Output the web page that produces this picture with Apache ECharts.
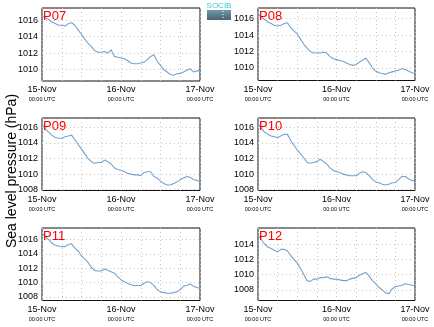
<!DOCTYPE html>
<html><head><meta charset="utf-8">
<script src="https://cdn.jsdelivr.net/npm/echarts@6/dist/echarts.min.js"></script>
<style>html,body{margin:0;padding:0;background:#fff}#c{width:434px;height:327px}</style>
</head><body><div id="c"></div>
<script>
// hours since 15-Nov 00:00 UTC
const hours = [0,1,2,3,4,5,6,7,8,9,10,11,12,13,14,15,16,17,18,19,20,21,22,23,24,25,26,27,28,29,30,31,32,33,34,35,36,37,38,39,40,41,42,43,44,45,46,47,48];
const stations = ['P07','P08','P09','P10','P11','P12'];
const p07 = [1016.6,1016.3,1016.1,1015.8,1015.6,1015.4,1015.4,1015.3,1015.6,1015.7,1015.4,1014.8,1014.3,1013.7,1013.2,1012.8,1012.3,1012.1,1012.1,1012.2,1012.0,1012.4,1011.6,1011.5,1011.4,1011.3,1011.1,1010.8,1010.7,1010.7,1010.8,1010.9,1011.2,1011.6,1011.8,1011.0,1010.5,1010.0,1009.7,1009.4,1009.3,1009.5,1009.5,1009.7,1009.9,1010.1,1009.7,1009.8,1009.9];
const p08 = [1016.5,1016.2,1015.9,1015.6,1015.4,1015.2,1015.1,1015.2,1015.4,1015.5,1014.9,1014.5,1014.1,1013.5,1012.9,1012.4,1012.0,1011.8,1011.8,1011.8,1011.9,1011.8,1011.4,1011.1,1011.0,1010.9,1010.8,1010.6,1010.4,1010.3,1010.4,1010.7,1010.9,1011.2,1010.6,1010.0,1009.6,1009.4,1009.3,1009.2,1009.4,1009.5,1009.6,1009.7,1009.9,1009.8,1009.6,1009.4,1009.3];
const p09 = [1016.4,1015.8,1015.4,1015.0,1014.7,1014.6,1014.6,1014.8,1014.9,1015.0,1014.4,1013.8,1013.2,1012.6,1012.0,1011.6,1011.4,1011.5,1011.5,1011.8,1011.6,1011.3,1010.8,1010.6,1010.5,1010.3,1010.1,1010.0,1009.9,1009.9,1009.8,1010.2,1010.3,1010.3,1009.7,1009.5,1009.1,1008.8,1008.6,1008.6,1008.8,1009.0,1009.3,1009.5,1009.7,1009.6,1009.3,1009.2,1009.0];
const p10 = [1016.4,1015.9,1015.4,1015.1,1014.9,1014.8,1014.7,1014.9,1015.1,1015.1,1014.3,1013.7,1013.1,1012.6,1012.1,1011.5,1011.4,1011.5,1011.6,1011.9,1011.6,1011.3,1010.8,1010.5,1010.3,1010.2,1010.0,1009.9,1009.8,1009.8,1009.8,1010.1,1010.3,1010.2,1009.8,1009.3,1009.0,1008.9,1008.7,1008.6,1008.7,1008.9,1008.9,1009.3,1009.7,1009.7,1009.4,1009.2,1009.1];
const p11 = [1016.9,1016.4,1016.0,1015.5,1015.2,1015.1,1015.0,1015.0,1015.3,1015.4,1014.8,1014.4,1013.7,1013.3,1012.8,1012.1,1011.7,1011.6,1011.6,1011.9,1011.7,1011.5,1011.3,1010.8,1010.4,1010.1,1009.9,1009.7,1009.6,1009.6,1009.6,1009.9,1010.1,1010.0,1009.6,1009.0,1008.7,1008.6,1008.5,1008.5,1008.6,1008.7,1009.0,1009.5,1009.6,1009.8,1009.5,1009.3,1009.2];
const p12 = [1015.2,1014.6,1014.0,1013.6,1013.4,1013.2,1013.0,1013.3,1013.3,1013.1,1012.5,1012.0,1011.5,1010.8,1010.0,1009.2,1009.1,1009.4,1009.4,1009.6,1009.6,1009.7,1009.5,1009.4,1009.4,1009.3,1009.2,1009.2,1009.4,1009.5,1009.6,1009.9,1010.1,1010.3,1009.8,1009.2,1008.8,1008.3,1008.0,1007.6,1007.5,1008.1,1008.4,1008.5,1008.6,1008.8,1008.7,1008.6,1008.6];
const xTickLabels = {0:'15-Nov', 24:'16-Nov', 48:'17-Nov'};
const xSubLabel = '00:00 UTC';
const yTicks = [[1010,1012,1014,1016],[1010,1012,1014,1016],[1008,1010,1012,1014,1016],[1008,1010,1012,1014,1016],[1008,1010,1012,1014,1016],[1008,1010,1012,1014]];
const yMin = [1008.6,1008.45,1007.9,1007.9,1007.5,1006.6];
const yMax = [1017.5,1017.3,1017.2,1017.2,1017.6,1016.1];
const yTitle = 'Sea level pressure (hPa)';

const values = [p07,p08,p09,p10,p11,p12];
const lefts = [42,258];
const tops = [8,118,228];
const font = 'Liberation Sans';
const grids=[],xAxes=[],yAxes=[],series=[],titles=[];
values.forEach((v,i)=>{
  const col=i%2,row=Math.floor(i/2);
  const L=lefts[col],T=tops[row],W=col===0?158:157,H=col===0&&row===0?73:72.5;
  grids.push({left:L,top:T,width:W,height:H,show:true,borderColor:'#111',borderWidth:1,backgroundColor:'transparent'});
  xAxes.push({type:'value',gridIndex:i,min:0,max:48,interval:6,
    axisLine:{show:false},axisTick:{show:false},
    splitLine:{show:true,lineStyle:{color:'#c4c4c4',type:[1,3],width:1}},
    axisLabel:{show:true,margin:4,showMinLabel:true,showMaxLabel:true,
      formatter:(val)=>xTickLabels[val]!==undefined?('{a|'+xTickLabels[val]+'}\n{b|'+xSubLabel+'}'):'',
      rich:{a:{fontFamily:font,fontSize:9,color:'#000',lineHeight:10},b:{fontFamily:font,fontSize:5.5,color:'#000',lineHeight:9}}}
  });
  yAxes.push({type:'value',gridIndex:i,min:yMin[i],max:yMax[i],
    axisLine:{show:false},
    axisTick:{show:false,customValues:yTicks[i]},
    splitLine:{show:true,lineStyle:{color:'#c4c4c4',type:[1,3],width:1}},
    axisLabel:{customValues:yTicks[i],formatter:(val)=>String(Math.round(val)),fontFamily:font,fontSize:9,color:'#000',margin:4}
  });
  series.push({type:'line',xAxisIndex:i,yAxisIndex:i,showSymbol:false,symbol:'none',
    lineStyle:{color:'#74a3cf',width:1.1},data:hours.map((h,k)=>[h,v[k]])});
  titles.push({text:stations[i],left:L+1,top:T+2,padding:0,
    textStyle:{color:'#f00',fontSize:13,fontWeight:'normal',fontFamily:font}});
});

const chart = echarts.init(document.getElementById('c'),null,{renderer:'canvas'});
chart.setOption({
  animation:false,
  backgroundColor:'#fff',
  title:titles,
  grid:grids,xAxis:xAxes,yAxis:yAxes,series:series,
  graphic:[
    {type:'text',x:12,y:171,rotation:Math.PI/2,style:{text:yTitle,fontFamily:font,fontSize:14,fill:'#000',align:'center',verticalAlign:'middle'}},
    {type:'rect',shape:{x:207,y:10,width:24,height:10},style:{fill:new echarts.graphic.LinearGradient(0,0,0,1,[{offset:0,color:'#6a9aab'},{offset:1,color:'#4f606e'}])}},
    {type:'line',shape:{x1:223,y1:11,x2:223,y2:20},style:{stroke:'#fff',lineWidth:1,lineDash:[1,2]}},
    {type:'text',x:219,y:6,style:{text:'SOCIB',fontFamily:font,fontSize:8,fill:'#3cc4dc',align:'center',verticalAlign:'middle'}}
  ]
});
</script></body></html>
